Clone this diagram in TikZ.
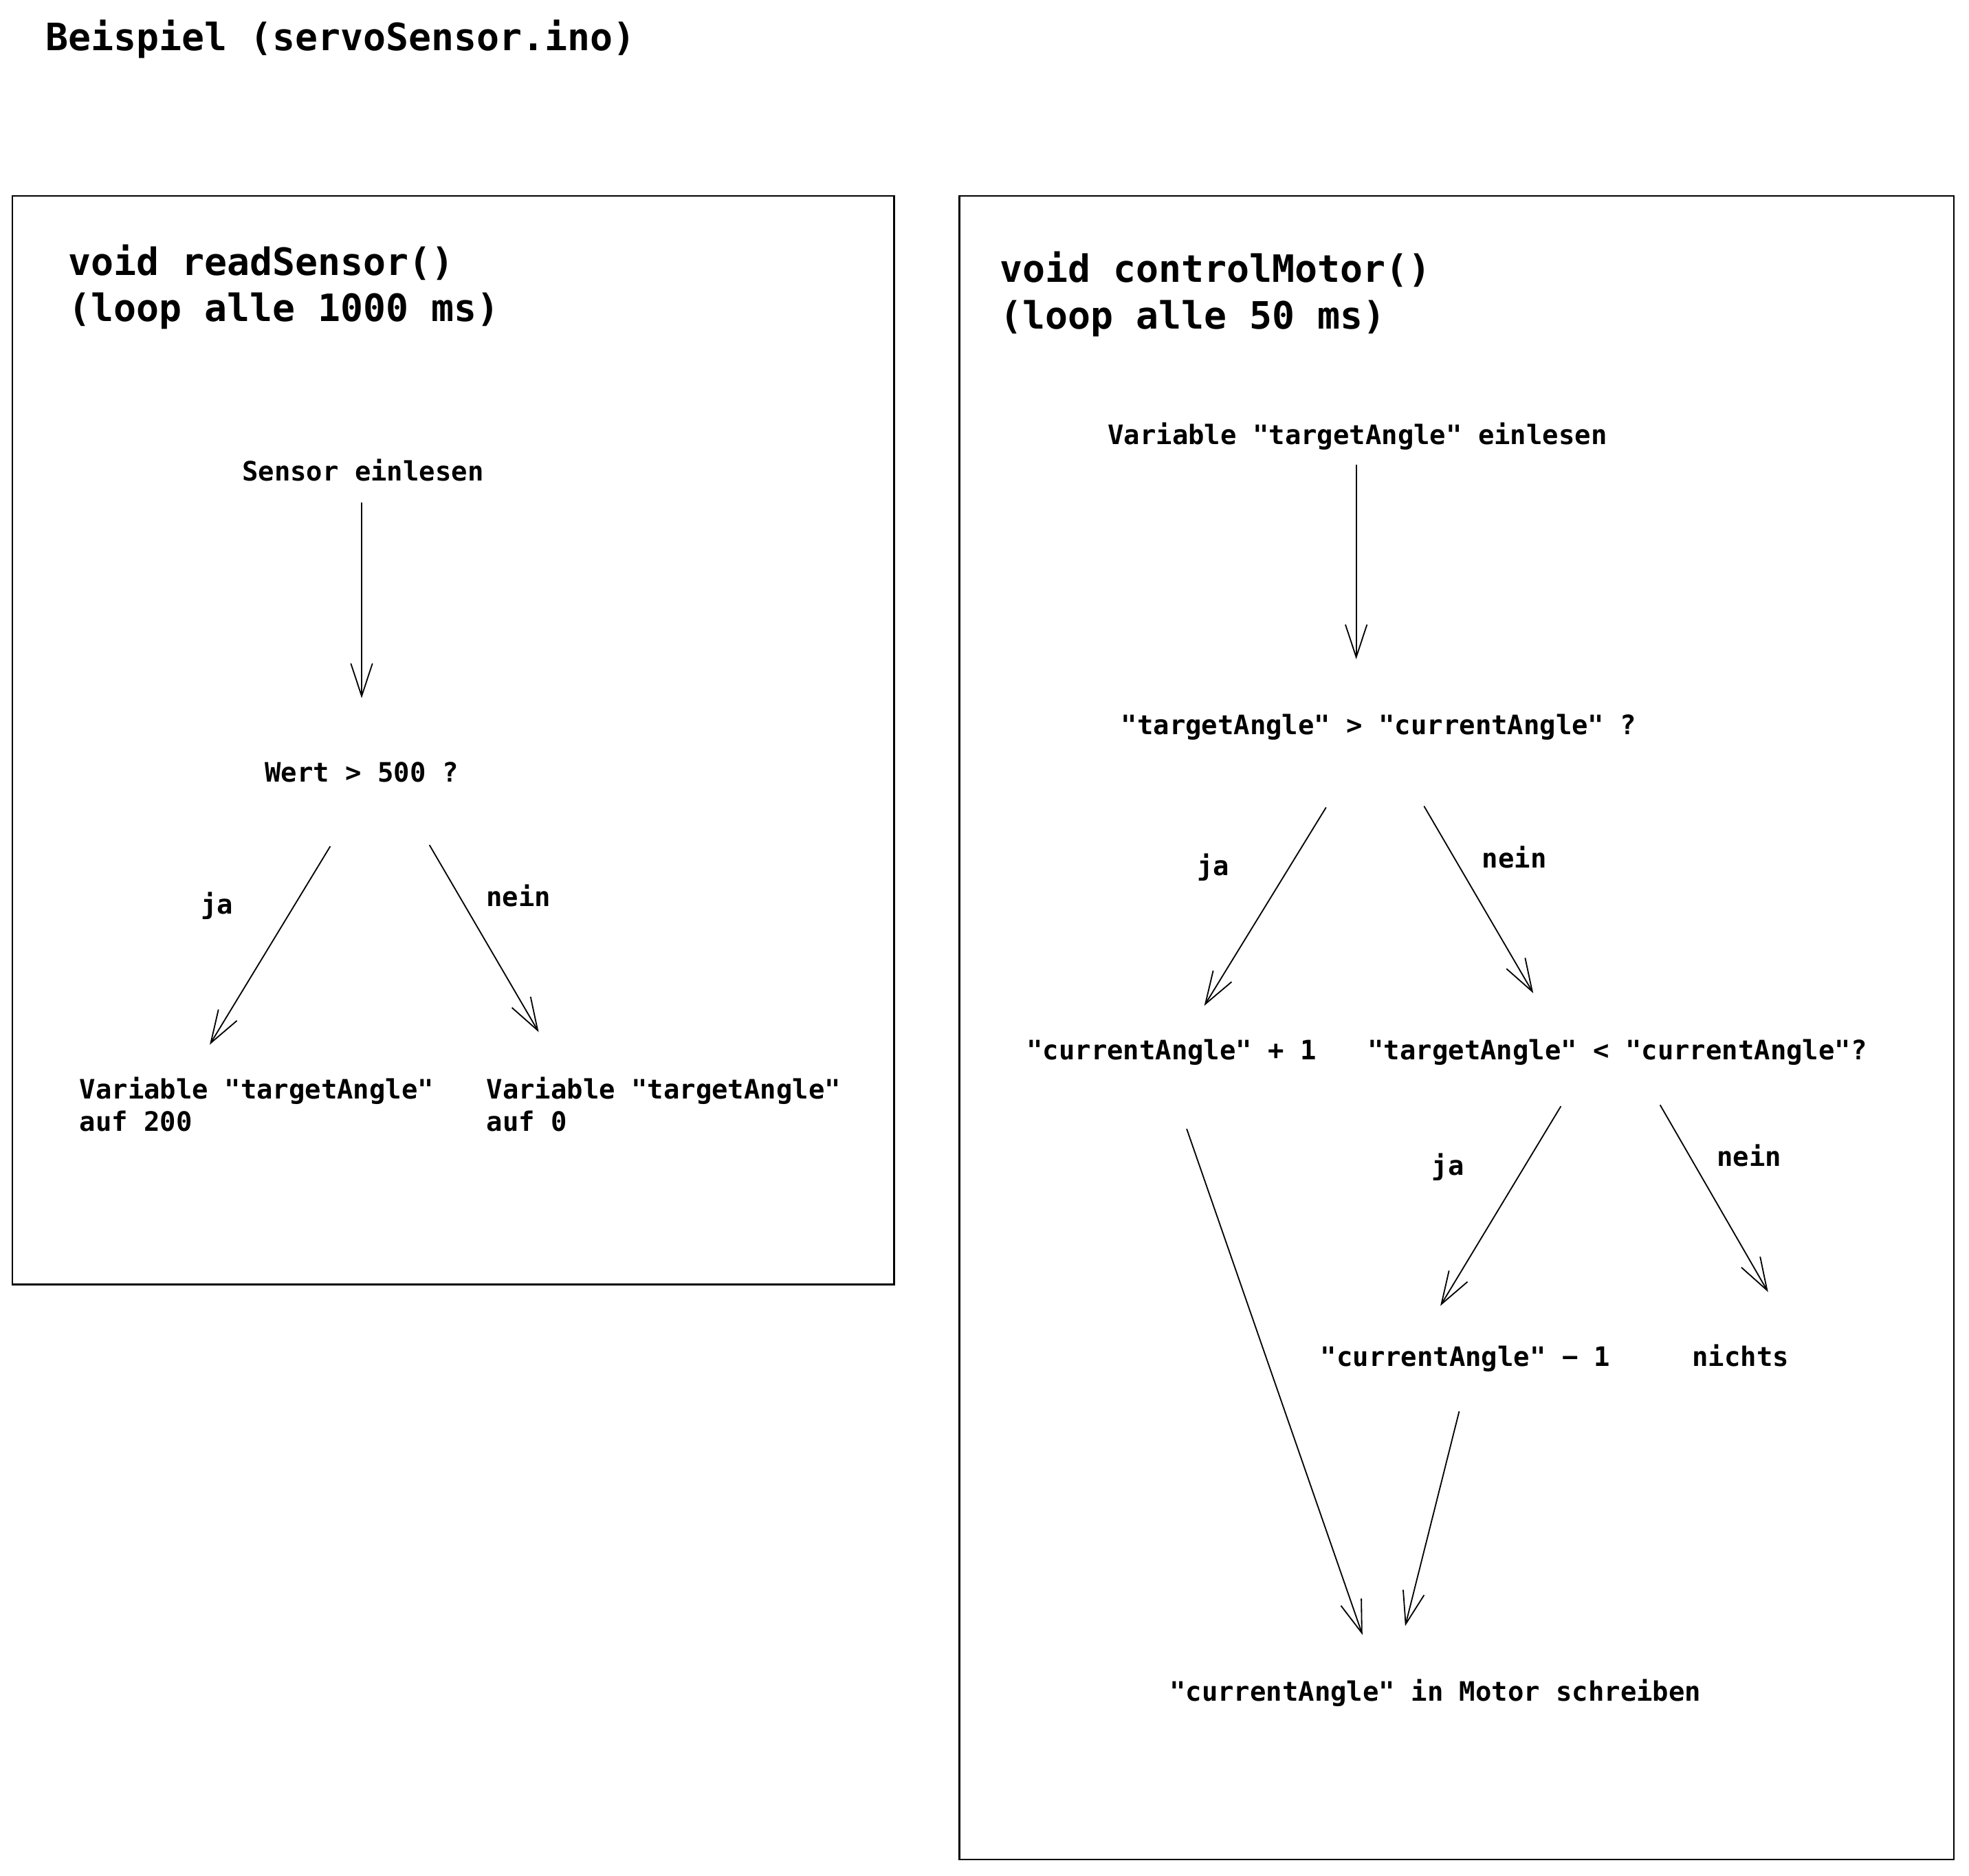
\documentclass[tikz,border=0pt]{standalone}
\usepackage{fontspec}
\setmonofont{DejaVu Sans Mono}
\usetikzlibrary{arrows.meta,calc}

\begin{document}
\begin{tikzpicture}[x=0.5pt,y=0.5pt,yscale=-1,xscale=1,
  txt/.style={font=\ttfamily\bfseries\fontsize{10.65}{13}\selectfont, inner sep=0pt, anchor=base},
  big/.style={font=\ttfamily\bfseries\fontsize{15}{18.5}\selectfont, inner sep=0pt, anchor=base west, align=left},
  arr/.style={line width=0.5pt, -{Straight Barb[length=13pt,width=8.6pt]}}]

\useasboundingbox (0,0) rectangle (1568,1494);

\node [big] (title) at (36,40) {Beispiel (servoSensor.ino)};

\draw [line width=0.6pt] (10,156) rectangle (712,1023);
\draw [line width=0.6pt] (764,156) rectangle (1556,1481);

\node [big] (readhead) at (54,256) {void readSensor()\\(loop alle 1000 ms)};
\node [big] (ctrlhead) at (796,262) {void controlMotor()\\(loop alle 50 ms)};

\node [txt] (sensor) at (289,383) {Sensor einlesen};
\node [txt] (wert) at (288,623) {Wert > 500 ?};
\node [txt, anchor=base west, align=left] (auf200) at (63,901) {Variable "targetAngle"\\auf 200};
\node [txt, anchor=base west, align=left] (auf0) at (387,901) {Variable "targetAngle"\\auf 0};
\node [txt] (ja1) at (173,728) {ja};
\node [txt] (nein1) at (413,722) {nein};

\draw [arr] ($(sensor.base)+(-1,17)$) -- ($(wert.base)+(0,-67)$);
\draw [arr] ($(wert.base)+(-25,51)$) -- ($(auf200.base west)+(104,-69)$);
\draw [arr] ($(wert.base)+(54,50)$) -- ($(auf0.base west)+(42,-79)$);

\node [txt] (einlesen) at (1081,354) {Variable "targetAngle" einlesen};
\node [txt] (gt) at (1098,585) {"targetAngle" > "currentAngle" ?};
\node [txt] (plus) at (933,844) {"currentAngle" + 1};
\node [txt] (lt) at (1288,844) {"targetAngle" < "currentAngle"?};
\node [txt] (minus) at (1167,1088) {"currentAngle" − 1};
\node [txt] (nichts) at (1386,1088) {nichts};
\node [txt] (motor) at (1143,1355) {"currentAngle" in Motor schreiben};
\node [txt] (ja2) at (966,697) {ja};
\node [txt] (nein2) at (1206,691) {nein};
\node [txt] (ja3) at (1153,936) {ja};
\node [txt] (nein3) at (1393,929) {nein};

\draw [arr] ($(einlesen.base)+(-1,16)$) -- ($(gt.base)+(-18,-60)$);
\draw [arr] ($(gt.base)+(-42,58)$) -- ($(plus.base)+(26,-43)$);
\draw [arr] ($(gt.base)+(36,57)$) -- ($(lt.base)+(-67,-53)$);
\draw [arr] ($(lt.base)+(-45,37)$) -- ($(minus.base)+(-20,-48)$);
\draw [arr] ($(lt.base)+(34,36)$) -- ($(nichts.base)+(22,-59)$);
\draw [arr] ($(plus.base)+(12,55)$) -- ($(motor.base)+(-58,-53)$);
\draw [arr] ($(minus.base)+(-5,36)$) -- ($(motor.base)+(-24,-60)$);

\end{tikzpicture}
\end{document}
